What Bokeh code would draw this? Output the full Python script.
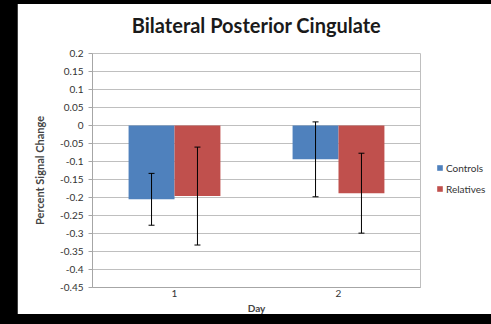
from bokeh.plotting import figure
from bokeh.models import FactorRange, FixedTicker, Legend, LegendItem, Whisker, ColumnDataSource
from bokeh.transform import dodge
from bokeh.embed import file_html
from bokeh.resources import INLINE

# Data
days = ["1", "2"]
controls = [-0.205, -0.094]
relatives = [-0.196, -0.188]
controls_err = [0.072, 0.104]
relatives_err = [0.136, 0.111]
y_ticks = [0.2, 0.15, 0.1, 0.05, 0, -0.05, -0.1, -0.15, -0.2, -0.25, -0.3, -0.35, -0.4, -0.45]
y_tick_labels = ["0.2", "0.15", "0.1", "0.05", "0", "-0.05", "-0.1", "-0.15", "-0.2",
                 "-0.25", "-0.3", "-0.35", "-0.4", "-0.45"]

BLUE = "#4F81BD"
RED = "#C0504D"
FONT = "Lato"
TITLE_STANDOFF = 33

src = ColumnDataSource(dict(
    day=days,
    controls=controls,
    relatives=relatives,
    c_up=[v + e for v, e in zip(controls, controls_err)],
    c_lo=[v - e for v, e in zip(controls, controls_err)],
    r_up=[v + e for v, e in zip(relatives, relatives_err)],
    r_lo=[v - e for v, e in zip(relatives, relatives_err)],
))

p = figure(
    x_range=FactorRange(*days, range_padding=0),
    y_range=(-0.45, 0.2),
    frame_width=328, frame_height=234,
    output_backend="svg", toolbar_location=None,
    min_border_left=75, min_border_right=71, min_border_top=10, min_border_bottom=27,
    background_fill_color="white", border_fill_color="white",
)
p.outline_line_color = None

bw = 0.28
r1 = p.vbar(x=dodge("day", -bw / 2, range=p.x_range), top="controls", bottom=0,
            width=bw, source=src, fill_color=BLUE, line_color=None)
r2 = p.vbar(x=dodge("day", bw / 2, range=p.x_range), top="relatives", bottom=0,
            width=bw, source=src, fill_color=RED, line_color=None)

# Error bars drawn above the bars
for xoff, up, lo in ((-bw / 2, "c_up", "c_lo"), (bw / 2, "r_up", "r_lo")):
    w = Whisker(base=dodge("day", xoff, range=p.x_range), upper=up, lower=lo,
                source=src, line_color="black", line_width=1, level="overlay")
    w.upper_head.size = 6
    w.lower_head.size = 6
    w.upper_head.line_color = "black"
    w.lower_head.line_color = "black"
    p.add_layout(w)

# Title
p.title.text = "Bilateral Posterior Cingulate"
p.title.align = "center"
p.title.text_font = FONT
p.title.text_font_size = "20px"
p.title.text_font_style = "bold"
p.title.text_color = "#1a1a1a"
p.title.standoff = TITLE_STANDOFF

# Y axis
p.yaxis.ticker = FixedTicker(ticks=y_ticks)
p.yaxis.major_label_overrides = {t: s for t, s in zip(y_ticks, y_tick_labels)}
p.yaxis.axis_label = "Percent Signal Change"
p.yaxis.axis_label_text_font = FONT
p.yaxis.axis_label_text_font_size = "11px"
p.yaxis.axis_label_text_font_style = "bold"
p.yaxis.axis_label_standoff = 11
p.yaxis.major_label_text_font = FONT
p.yaxis.major_label_text_font_size = "10px"
p.yaxis.major_label_text_color = "#333333"
p.yaxis.major_label_standoff = 5
p.yaxis.axis_line_color = "#A6A6A6"
p.yaxis.major_tick_line_color = "#A6A6A6"
p.yaxis.major_tick_out = 4
p.yaxis.major_tick_in = 0
p.yaxis.minor_tick_line_color = None

# X axis
p.xaxis.axis_label = "Day"
p.xaxis.axis_label_text_font = FONT
p.xaxis.axis_label_text_font_size = "10px"
p.xaxis.axis_label_text_font_style = "bold"
p.xaxis.axis_label_standoff = 2
p.xaxis.major_label_text_font = FONT
p.xaxis.major_label_text_font_size = "10px"
p.xaxis.major_label_text_color = "#333333"
p.xaxis.major_label_standoff = -4
p.xaxis.axis_line_color = "#A6A6A6"
p.xaxis.major_tick_line_color = None
p.xaxis.minor_tick_line_color = None

p.xgrid.grid_line_color = None
p.ygrid.grid_line_color = "#BFBFBF"
p.ygrid.grid_line_width = 1

# Legend in the right-hand border
legend = Legend(items=[LegendItem(label="Controls", renderers=[r1]),
                       LegendItem(label="Relatives", renderers=[r2])],
                location=(16, 92))
legend.glyph_width = 7
legend.glyph_height = 7
legend.label_height = 13
legend.label_standoff = 3
legend.spacing = 8
legend.padding = 2
legend.margin = 0
legend.border_line_color = None
legend.background_fill_alpha = 0
legend.label_text_font = FONT
legend.label_text_font_size = "10px"
legend.label_text_color = "#333333"
p.add_layout(legend, "right")

html = file_html(p, INLINE)
# black page surround: chart lifted so the frame top sits at y=53,
# with black bands over the top 4px and below y=314
page_style = ("<style>html{margin:0;background:#000;overflow:hidden;}"
              "body{margin:-5px 0 0 0;padding:0 0 0 17px;position:relative;top:-6px;"
              "background:#000;}"
              "body::after{content:'';position:fixed;left:0;top:0;width:491px;height:4px;"
              "background:#000;z-index:9999;}"
              "body::before{content:'';position:fixed;left:0;top:314px;width:491px;height:10px;"
              "background:#000;z-index:9999;}</style>")
html = html.replace("</head>", page_style + "</head>", 1)
open("out.html", "w").write(html)
